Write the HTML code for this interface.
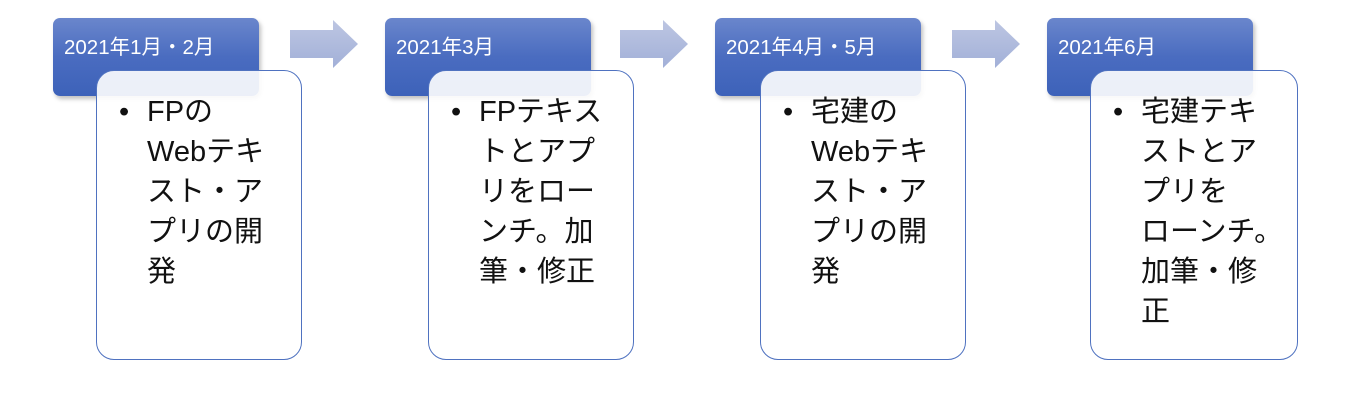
<!DOCTYPE html>
<html><head><meta charset="utf-8"><style>
body{margin:0;width:1345px;height:410px;background:#fff;position:relative;overflow:hidden;font-family:"Liberation Sans","Noto Sans CJK JP",sans-serif}
.h{position:absolute;top:18px;width:206px;height:78px;border-radius:7px;background:linear-gradient(#6a86cc,#4a6cc0 50%,#3d62b9);box-shadow:2px 3px 4px rgba(0,0,0,.25);color:#fff;font-size:20.5px;box-sizing:border-box;padding:12px 0 0 11px}
.c{position:absolute;top:70px;width:206px;height:290px;border:1.5px solid #4f72c0;border-radius:18px;background:rgba(255,255,255,.9);box-sizing:border-box;font-size:29px;line-height:40px;color:#111}
.c ul{margin:21px 0 0 0;padding:0 0 0 50px}
.c li{list-style:none;position:relative}
.c li:before{content:"•";position:absolute;left:-28px}
.a{position:absolute;top:18px}
</style></head><body>
<svg class="a" style="left:288px" width="72" height="52"><defs><linearGradient id="g" x1="0" y1="0" x2="0" y2="1"><stop offset="0" stop-color="#bdc6e2"/><stop offset="1" stop-color="#a2b0d8"/></linearGradient></defs><path d="M2 12H45V2L70 26L45 50V40H2Z" fill="url(#g)"/></svg>
<svg class="a" style="left:618px" width="72" height="52"><path d="M2 12H45V2L70 26L45 50V40H2Z" fill="url(#g)"/></svg>
<svg class="a" style="left:950px" width="72" height="52"><path d="M2 12H45V2L70 26L45 50V40H2Z" fill="url(#g)"/></svg>

<div class="h" style="left:53px">2021年1月・2月</div>
<div class="c" style="left:96px"><ul><li>FPの<br>Webテキ<br>スト・ア<br>プリの開<br>発</li></ul></div>

<div class="h" style="left:385px">2021年3月</div>
<div class="c" style="left:428px"><ul><li>FPテキス<br>トとアプ<br>リをロー<br>ンチ。加<br>筆・修正</li></ul></div>

<div class="h" style="left:715px">2021年4月・5月</div>
<div class="c" style="left:760px"><ul><li>宅建の<br>Webテキ<br>スト・ア<br>プリの開<br>発</li></ul></div>

<div class="h" style="left:1047px">2021年6月</div>
<div class="c" style="left:1090px;width:208px"><ul><li>宅建テキ<br>ストとア<br>プリを<br>ローンチ。<br>加筆・修<br>正</li></ul></div>
</body></html>
